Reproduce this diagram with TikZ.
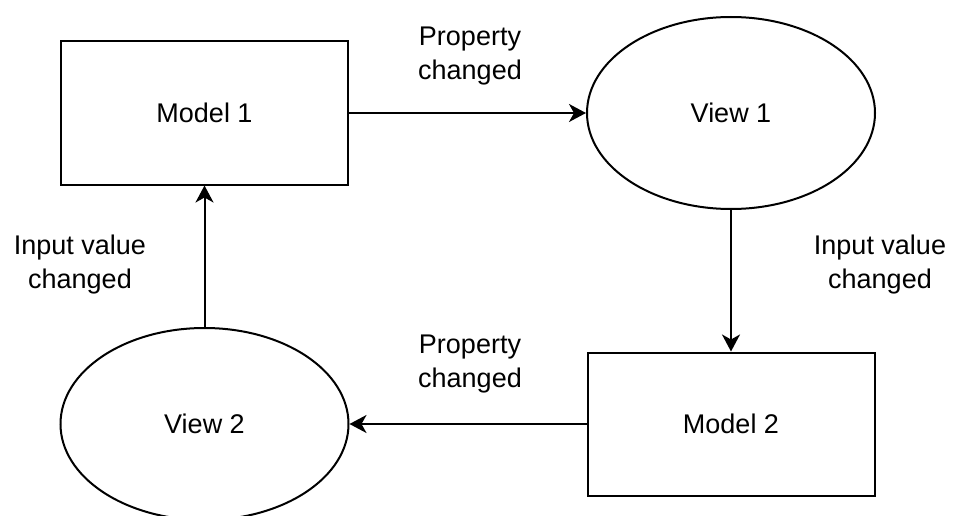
\documentclass[tikz,border=0pt]{standalone}
\usepackage{fontspec}
\setmainfont{Liberation Sans}
\usetikzlibrary{arrows.meta, shapes.geometric}

\tikzset{
  model/.style={draw, line width=2pt, minimum width=287pt, minimum height=143pt, inner sep=0pt},
  view/.style={draw, ellipse, line width=2pt, minimum width=288pt, minimum height=192pt, inner sep=0pt},
  flow/.style={-{Stealth[length=17pt, width=18pt, inset=5pt]}, line width=2pt},
  lbl/.style={align=center, font=\fontsize{27}{34}\selectfont}
}

\begin{document}
\begin{tikzpicture}[x=1pt, y=1pt, font=\fontsize{27}{32}\selectfont]
\useasboundingbox (0,0) rectangle (956,-516);

% Models and views
\node[model] (model1) at (204.5,-113) {Model 1};
\node[view] (view1) at (731,-113) {View 1};
\node[model] (model2) at (731,-424) {Model 2};
\node[view] (view2) at (204.5,-424) {View 2};

% Update cycle
\draw[flow] (model1) -- (view1);
\draw[flow] (view1) -- (model2);
\draw[flow] (model2) -- (view2);
\draw[flow] (view2) -- (model1);

\node[lbl] (propTop) at (470,-56) {Property\\changed};
\node[lbl] (inputRight) at (880,-265) {Input value\\changed};
\node[lbl] (propBottom) at (470,-364) {Property\\changed};
\node[lbl] (inputLeft) at (80,-265) {Input value\\changed};
\end{tikzpicture}
\end{document}
